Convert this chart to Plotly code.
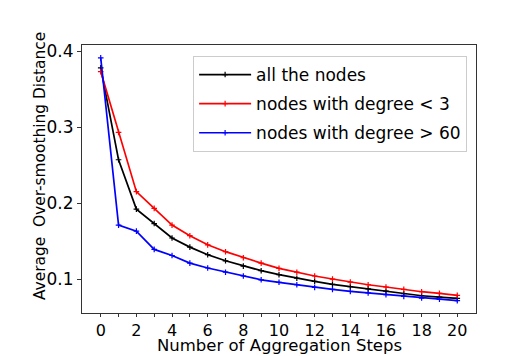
import plotly.graph_objects as go

steps = list(range(21))

all_nodes = [0.378, 0.257, 0.192, 0.173, 0.154, 0.142, 0.132, 0.124, 0.117, 0.111,
             0.1057, 0.101, 0.097, 0.093, 0.090, 0.087, 0.084, 0.0807, 0.078, 0.0763, 0.0746]
low_degree = [0.373, 0.293, 0.215, 0.193, 0.171, 0.157, 0.145, 0.136, 0.128, 0.121,
              0.114, 0.109, 0.104, 0.100, 0.096, 0.0925, 0.0895, 0.0864, 0.0833, 0.0812, 0.0785]
high_degree = [0.391, 0.171, 0.163, 0.139, 0.131, 0.121, 0.1145, 0.109, 0.104, 0.099,
               0.0957, 0.0925, 0.089, 0.0864, 0.0838, 0.0816, 0.0794, 0.0772, 0.075, 0.0733, 0.0715]

series = [
    ("all the nodes", all_nodes, "#000000"),
    ("nodes with degree < 3", low_degree, "#ff0000"),
    ("nodes with degree > 60", high_degree, "#0000ff"),
]

x_tickvals = list(range(21))
x_ticktext = [str(v) if v % 2 == 0 else "" for v in x_tickvals]
y_tickvals = [0.1, 0.2, 0.3, 0.4]

font = "DejaVu Sans"

# the page adds an 8px body margin, so the figure is shrunk by that much
fig = go.Figure()
for i, (name, vals, color) in enumerate(series):
    fig.add_trace(go.Scatter(
        x=steps, y=vals, name=name, mode="lines+markers",
        line=dict(color=color, width=1.7),
        marker=dict(symbol="cross-thin", size=4, line=dict(color=color, width=1.2), color=color),
        legendgroup=str(i),
    ))

fig.update_layout(
    width=504, height=348,
    margin=dict(l=74, r=36, t=37, b=43),
    paper_bgcolor="white", plot_bgcolor="white",
    font=dict(family=font, size=17, color="black"),
    showlegend=True,
    legend=dict(
        x=0.282, y=0.959, xanchor="left", yanchor="top",
        bgcolor="white", bordercolor="#cccccc", borderwidth=1,
        font=dict(family=font, size=17, color="black"),
        traceorder="grouped", tracegroupgap=4, itemwidth=52,
    ),
    xaxis=dict(
        range=[-1.05, 21.05], tickmode="array", tickvals=x_tickvals, ticktext=x_ticktext,
        ticks="outside", ticklen=3, tickcolor="#333", showgrid=False, zeroline=False,
        showline=True, mirror=True, linecolor="#333", linewidth=1, automargin=False,
        tickfont=dict(family=font, size=16),
    ),
    yaxis=dict(
        range=[0.0553, 0.408], tickmode="array", tickvals=y_tickvals,
        ticktext=["0.1", "0.2", "0.3", "0.4"],
        ticks="outside", ticklen=4, tickcolor="#333", showgrid=False, zeroline=False,
        showline=True, mirror=True, linecolor="#333", linewidth=1, automargin=False,
        tickfont=dict(family=font, size=17),
    ),
    annotations=[
        dict(text="Average\u00a0 Over-smoothing Distance", textangle=-90,
             xref="paper", yref="paper", x=-0.1066, y=0.5485,
             xanchor="center", yanchor="middle", showarrow=False,
             font=dict(family=font, size=15.4, color="black")),
        dict(text="Number of Aggregation Steps",
             xref="paper", yref="paper", x=0.5, y=-0.123,
             xanchor="center", yanchor="middle", showarrow=False,
             font=dict(family=font, size=16.5, color="black")),
    ],
)

fig.write_html("out.html")
